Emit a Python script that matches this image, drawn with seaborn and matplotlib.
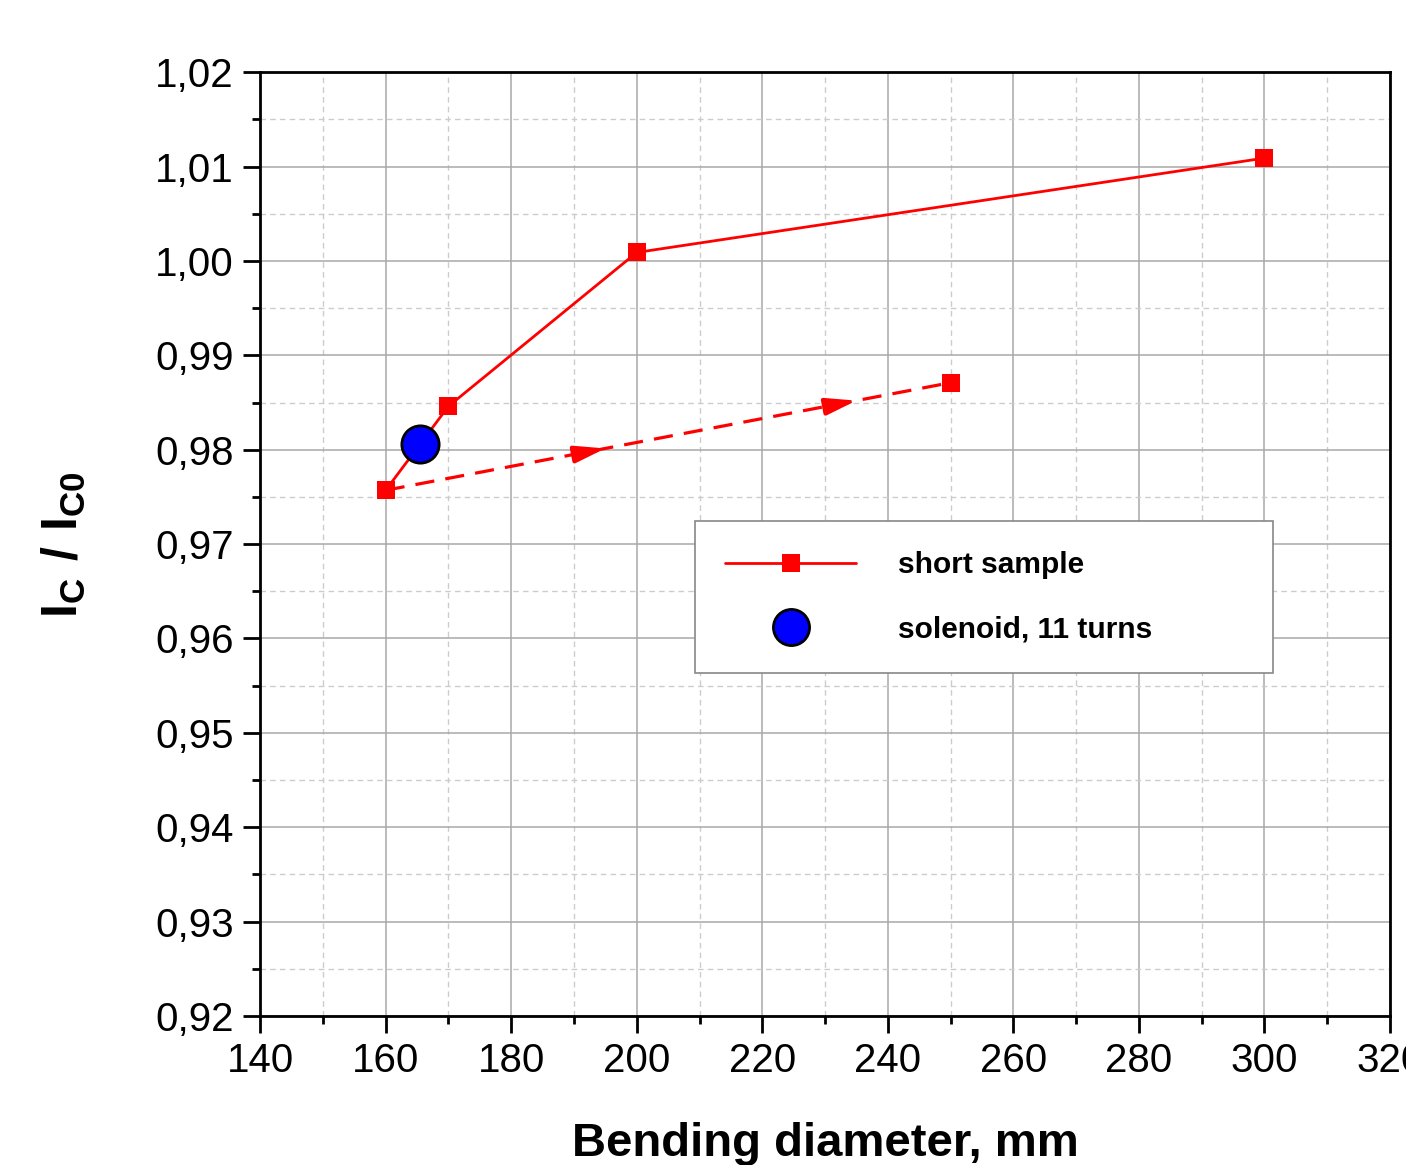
import matplotlib
matplotlib.use("Agg")
import matplotlib.pyplot as plt
import matplotlib.ticker as mticker
from matplotlib.lines import Line2D
import numpy as np
import pandas as pd
import seaborn as sns

# data
diam_short = [160, 170, 200, 300]
ic_short = [0.9757, 0.9846, 1.0009, 1.0109]
diam_dash = [160, 250]
ic_dash = [0.9757, 0.9871]
arrow_x = [195, 235]
diam_sol = [165.4]
ic_sol = [0.9806]

sns.set_style("ticks")
plt.rcParams["font.family"] = ["Liberation Sans", "DejaVu Sans"]
plt.rcParams["mathtext.fontset"] = "custom"
plt.rcParams["mathtext.rm"] = "Liberation Sans"
plt.rcParams["mathtext.bf"] = "Liberation Sans:bold"
plt.rcParams["text.color"] = "black"
plt.rcParams["axes.labelcolor"] = "black"
plt.rcParams["xtick.color"] = "black"
plt.rcParams["ytick.color"] = "black"

RED = "#ff0000"
BLUE = "#0000ff"

fig = plt.figure(figsize=(14.06, 11.65), dpi=100)
ax = fig.add_axes([0.185, 0.128, 0.8036, 0.81])

short = pd.DataFrame({"d": diam_short, "ic": ic_short})
dash = pd.DataFrame({"d": diam_dash, "ic": ic_dash})
sol = pd.DataFrame({"d": diam_sol, "ic": ic_sol})

sns.lineplot(data=short, x="d", y="ic", ax=ax, color=RED, lw=2,
             marker="s", markersize=13, markeredgewidth=0, zorder=4)
sns.lineplot(data=dash, x="d", y="ic", ax=ax, color=RED, lw=2.3,
             linestyle=(0, (6, 3.5)), marker="s", markersize=13,
             markeredgewidth=0, zorder=3)
# arrowheads along the dashed branch
for xa in arrow_x:
    ya = np.interp(xa, diam_dash, ic_dash)
    yb = np.interp(xa - 5, diam_dash, ic_dash)
    ax.annotate("", xy=(xa, ya), xytext=(xa - 5, yb),
                arrowprops=dict(arrowstyle="-|>,head_length=1.8,head_width=0.5",
                                color=RED, lw=3, shrinkA=0, shrinkB=0),
                zorder=3)
sns.scatterplot(data=sol, x="d", y="ic", ax=ax, color=BLUE, s=720,
                edgecolor="black", linewidth=2, zorder=5)

ax.set_xlim(140, 320)
ax.set_ylim(0.92, 1.02)
ax.xaxis.set_major_locator(mticker.MultipleLocator(20))
ax.xaxis.set_minor_locator(mticker.MultipleLocator(10))
ax.yaxis.set_major_locator(mticker.MultipleLocator(0.01))
ax.yaxis.set_minor_locator(mticker.MultipleLocator(0.005))
ax.yaxis.set_major_formatter(mticker.FuncFormatter(lambda v, p: f"{v:.2f}".replace(".", ",")))

ax.grid(which="major", color="#a8a8a8", lw=1.1, ls="-")
ax.grid(which="minor", color="#cccccc", lw=1, ls=(0, (4, 3)))
ax.set_axisbelow(True)

for s in ax.spines.values():
    s.set_visible(True)
    s.set_linewidth(2)
    s.set_color("black")
ax.tick_params(which="major", direction="out", length=12, width=2, labelsize=29, pad=7)
ax.tick_params(which="minor", direction="out", length=6, width=2)

ax.set_xlabel("Bending diameter, mm", fontsize=34, fontweight="bold", labelpad=30)
ax.set_ylabel(r"$\mathbf{I_C\ /\ I_{C0}}$", fontsize=36, labelpad=48)

handles = [
    Line2D([], [], color=RED, lw=2, marker="s", markersize=13, markeredgewidth=0),
    Line2D([], [], color=BLUE, lw=0, marker="o", markersize=26,
           markeredgecolor="black", markeredgewidth=2),
]
leg = ax.legend(handles, ["short sample", "solenoid, 11 turns"], loc="upper left",
                bbox_to_anchor=(0.385, 0.524), borderaxespad=0, frameon=True,
                fancybox=False, edgecolor="#888888", framealpha=1,
                handlelength=4.4, handletextpad=1.4, borderpad=1.0,
                labelspacing=1.2, prop={"weight": "bold", "size": 21.5},
                numpoints=1, alignment="left")
leg.get_frame().set_linewidth(1.2)
leg._legend_box.set_width(518)

fig.savefig("out.png", dpi=100)
